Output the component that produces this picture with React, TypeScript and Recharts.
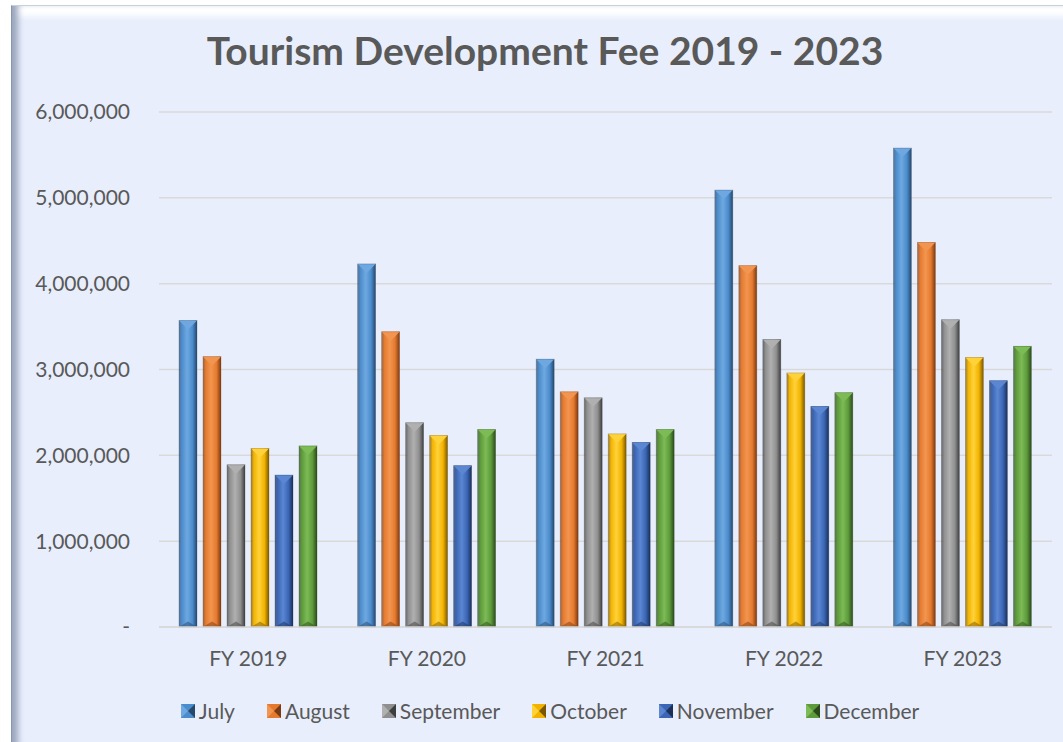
import React from 'react';
import { BarChart, Bar, XAxis, YAxis, CartesianGrid, Legend } from 'recharts';

const years = ['FY 2019', 'FY 2020', 'FY 2021', 'FY 2022', 'FY 2023'];
const july = [3570000, 4230000, 3120000, 5090000, 5580000];
const august = [3150000, 3440000, 2740000, 4210000, 4480000];
const september = [1890000, 2380000, 2670000, 3350000, 3580000];
const october = [2080000, 2230000, 2250000, 2960000, 3140000];
const november = [1770000, 1880000, 2150000, 2570000, 2870000];
const december = [2110000, 2300000, 2300000, 2730000, 3270000];
const yTicks = [0, 1000000, 2000000, 3000000, 4000000, 5000000, 6000000];

const series = [
  { key: 'july', name: 'July', values: july, base: '#4a8ccd', light: '#6fa8e0', dark: '#27476b' },
  { key: 'august', name: 'August', values: august, base: '#e57a2e', light: '#f29550', dark: '#7a3a12' },
  { key: 'september', name: 'September', values: september, base: '#8f8f8f', light: '#b0b0b0', dark: '#3e3e3e' },
  { key: 'october', name: 'October', values: october, base: '#f2b300', light: '#ffd23a', dark: '#7a5800' },
  { key: 'november', name: 'November', values: november, base: '#3a66b5', light: '#5a86d2', dark: '#1b2f57' },
  { key: 'december', name: 'December', values: december, base: '#5c9a3b', light: '#7cbb55', dark: '#2b4a1b' },
];

const data = years.map((year, i) => {
  const row: Record<string, string | number> = { year };
  series.forEach((s) => {
    row[s.key] = s.values[i];
  });
  return row;
});

const textColor = '#595959';
const font = 'Lato, "Open Sans", sans-serif';

function BevelBar(props: any) {
  const { x, y, width, height, seriesKey } = props;
  const s = series.find((d) => d.key === seriesKey)!;
  if (!height || height <= 0) return null;
  const tri = Math.min(width / 2, height / 2);
  return (
    <g>
      <rect x={x} y={y} width={width} height={height} fill={`url(#grad-${s.key})`} />
      <polygon
        points={`${x},${y} ${x + width},${y} ${x + width / 2},${y + tri}`}
        fill={s.light}
      />
      <polygon
        points={`${x},${y + height} ${x + width},${y + height} ${x + width / 2},${y + height - tri * 0.6}`}
        fill={s.dark}
        opacity={0.5}
      />
      <rect x={x} y={y} width={width} height={height} fill="none" stroke={s.dark} strokeOpacity={0.35} strokeWidth={0.8} />
    </g>
  );
}

function LegendIcon({ s }: { s: (typeof series)[number] }) {
  return (
    <svg width={14} height={14} style={{ marginRight: 4, verticalAlign: 'middle' }}>
      <rect x={0} y={0} width={14} height={14} fill={s.base} />
      <polygon points="0,0 7,7 0,14" fill={s.light} />
      <polygon points="14,0 7,7 14,14" fill={s.dark} />
    </svg>
  );
}

function renderLegend() {
  return (
    <div style={{ display: 'flex', justifyContent: 'center', fontFamily: font, fontSize: 21, color: textColor }}>
      {series.map((s) => (
        <span key={s.key} style={{ display: 'inline-flex', alignItems: 'center', margin: '0 16px' }}>
          <LegendIcon s={s} />
          {s.name}
        </span>
      ))}
    </div>
  );
}

export default function App() {
  return (
    <div style={{ position: 'absolute', left: 0, top: 0, width: 1063, height: 742, background: '#ffffff', overflow: 'hidden' }}>
      <div
        style={{
          position: 'absolute',
          left: 11,
          top: 5,
          width: 1070,
          height: 740,
          background: '#e8eefc',
          boxShadow: 'inset 9px 0 6px -3px #9aa6bd, inset 0 14px 6px -4px #ffffff',
          borderTop: '1px solid #c8d0e0',
          borderLeft: '1px solid #8a96ac',
        }}
      />
      <div
        style={{
          position: 'absolute',
          left: 0,
          width: 1090,
          top: 27,
          textAlign: 'center',
          fontFamily: font,
          fontWeight: 700,
          fontSize: 39,
          color: textColor,
        }}
      >
        Tourism Development Fee 2019 - 2023
      </div>
      <div style={{ position: 'absolute', left: 0, top: 0 }}>
        <BarChart
          width={1063}
          height={742}
          data={data}
          margin={{ top: 112, right: 11, left: 0, bottom: 30 }}
          barSize={18}
          barGap={6}
        >
          <defs>
            {series.map((s) => (
              <linearGradient key={s.key} id={`grad-${s.key}`} x1="0" y1="0" x2="1" y2="0">
                <stop offset="0%" stopColor={s.dark} stopOpacity={0.7} />
                <stop offset="15%" stopColor={s.base} />
                <stop offset="45%" stopColor={s.light} />
                <stop offset="75%" stopColor={s.base} />
                <stop offset="100%" stopColor={s.dark} />
              </linearGradient>
            ))}
          </defs>
          <CartesianGrid vertical={false} stroke="#d9d9d9" strokeWidth={1.5} />
          <XAxis
            dataKey="year"
            height={60}
            tickLine={false}
            axisLine={{ stroke: '#d9d9d9', strokeWidth: 1.5 }}
            tickSize={0}
            tickMargin={24}
            tick={{ fill: textColor, fontSize: 21, fontFamily: font }}
          />
          <YAxis
            width={159}
            domain={[0, 6000000]}
            ticks={yTicks}
            tickLine={false}
            axisLine={false}
            tickSize={0}
            tickMargin={29}
            tick={{ fill: textColor, fontSize: 21, fontFamily: font }}
            tickFormatter={(v: number) => (v === 0 ? '-' : v.toLocaleString('en-US'))}
          />
          <Legend
            verticalAlign="bottom"
            content={renderLegend}
            wrapperStyle={{ bottom: 19, left: 0, width: 1100 }}
          />
          {series.map((s) => (
            <Bar
              key={s.key}
              dataKey={s.key}
              name={s.name}
              fill={s.base}
              isAnimationActive={false}
              shape={(p: any) => <BevelBar {...p} seriesKey={s.key} />}
            />
          ))}
        </BarChart>
      </div>
    </div>
  );
}
